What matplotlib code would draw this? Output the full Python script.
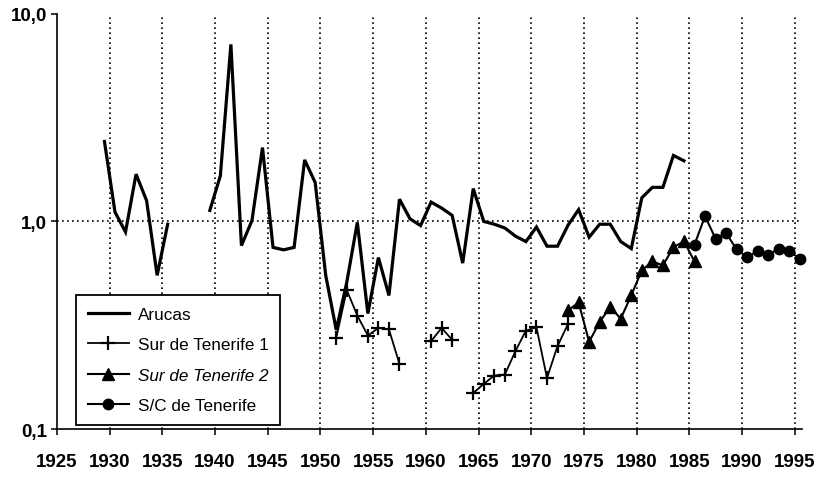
import numpy as np
import matplotlib
matplotlib.use("Agg")
import matplotlib.pyplot as plt
from matplotlib.ticker import FixedLocator, FixedFormatter, NullLocator

nan = np.nan

# ---- data ----
arucas_years = list(range(1929, 1985))
arucas_vals = [2.43, 1.11, 0.89, 1.69, 1.26, 0.55, 0.97,
               nan, nan, nan,
               1.13, 1.66, 7.13, 0.765, 1.01, 2.27, 0.75, 0.73, 0.75, 1.98,
               1.54, 0.55, 0.30, 0.51, 0.99, 0.36, 0.67, 0.44, 1.28, 1.03,
               0.955, 1.24, 1.16, 1.07, 0.63, 1.44, 1.00, 0.97, 0.93, 0.85,
               0.80, 0.94, 0.76, 0.76, 0.96, 1.14, 0.84, 0.97, 0.97, 0.80,
               0.74, 1.30, 1.46, 1.46, 2.08, 1.96]

sur1_years = list(range(1951, 1974))
sur1_vals = [0.275, 0.467, 0.352, 0.282, 0.307, 0.302, 0.206,
             nan, nan,
             0.265, 0.307, 0.269,
             nan,
             0.149, 0.165, 0.181, 0.183, 0.237, 0.298, 0.309, 0.176, 0.251, 0.321]

sur2_years = list(range(1973, 1986))
sur2_vals = [0.373, 0.407, 0.263, 0.328, 0.387, 0.340, 0.441, 0.581,
             0.642, 0.614, 0.752, 0.801, 0.642]

sc_years = list(range(1985, 1996))
sc_vals = [0.773, 1.06, 0.826, 0.879, 0.733, 0.674, 0.718, 0.692, 0.739, 0.718, 0.662]

x_ticks = list(range(1925, 1996, 5))
y_ticks = [0.1, 1.0, 10.0]
y_tick_labels = ["0,1", "1,0", "10,0"]

labels = ["Arucas", "Sur de Tenerife 1", "Sur de Tenerife 2", "S/C de Tenerife"]

# ---- style ----
X_OFFSET = 0.5  # values are plotted at mid-year
plt.rcParams['font.family'] = ['Liberation Sans', 'DejaVu Sans']

fig = plt.figure(figsize=(8.29, 4.81), dpi=100)
ax = fig.add_axes([0.0688, 0.106, 0.8986, 0.863])

def xs(years):
    return np.array(years, dtype=float) + X_OFFSET

ax.plot(xs(arucas_years), arucas_vals, color='black', lw=2.3, label=labels[0],
        solid_joinstyle='miter', zorder=3)
ax.plot(xs(sur1_years), sur1_vals, color='black', lw=1.3, marker='+', ms=10,
        mew=1.6, label=labels[1], zorder=4)
ax.plot(xs(sur2_years), sur2_vals, color='black', lw=1.5, marker='^', ms=8,
        label=labels[2], zorder=4)
ax.plot(xs(sc_years), sc_vals, color='black', lw=1.5, marker='o', ms=7.5,
        label=labels[3], zorder=4, clip_on=False)

ax.set_yscale('log')
ax.set_ylim(0.1, 10.0)
ax.set_xlim(1925, 1995.7)

ax.yaxis.set_major_locator(FixedLocator(y_ticks))
ax.yaxis.set_major_formatter(FixedFormatter(y_tick_labels))
ax.yaxis.set_minor_locator(NullLocator())
ax.xaxis.set_major_locator(FixedLocator(x_ticks))
ax.xaxis.set_major_formatter(FixedFormatter([str(t) for t in x_ticks]))

# dotted grid lines
for t in x_ticks[1:]:
    ax.axvline(t, color='black', lw=1.2, ls=(0, (1, 2)), zorder=1)
ax.axhline(1.0, color='black', lw=1.2, ls=(0, (1, 2)), zorder=1)

for s in ['top', 'right']:
    ax.spines[s].set_visible(False)
for s in ['left', 'bottom']:
    ax.spines[s].set_linewidth(1.2)

ax.tick_params(axis='x', direction='out', length=4, width=1.1, pad=13, labelsize=13.5)
ax.tick_params(axis='y', direction='out', length=4, width=1.1, pad=3, labelsize=13.5)
for lab in ax.get_xticklabels() + ax.get_yticklabels():
    lab.set_fontweight('bold')

leg = ax.legend(loc='lower left', bbox_to_anchor=(0.0255, 0.0096), borderaxespad=0,
                fontsize=12.3, frameon=True, fancybox=False, edgecolor='black',
                framealpha=1, handlelength=2.4, handletextpad=0.5,
                labelspacing=0.9, borderpad=0.7)
leg.get_frame().set_linewidth(1.3)
leg.get_texts()[2].set_fontstyle('italic')

fig.savefig('out.png', dpi=100)
